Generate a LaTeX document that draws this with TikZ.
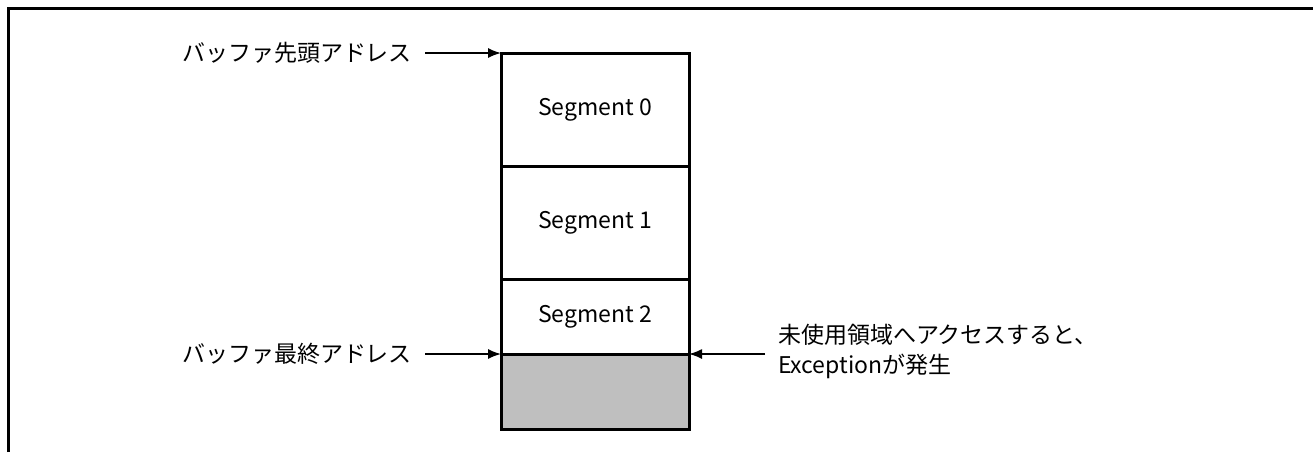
\documentclass[tikz,border=0pt]{standalone}
\usepackage{fontspec}
\setmainfont{Noto Sans CJK JP}
\usepackage{tikz}
\usetikzlibrary{arrows.meta}
\usetikzlibrary{positioning}
\definecolor{unusedgray}{RGB}{191,191,191}
\tikzstyle{base}=[remember picture, inner sep=0pt, outer sep=0pt, font=\fontsize{11.5}{15}\selectfont]
\tikzstyle{seg}=[draw, line width=1.5pt, minimum width=94pt, fill=white]
\tikzstyle{lbl}=[inner xsep=6.5pt, inner ysep=0pt]
\tikzstyle{arw}=[-{Latex[length=6.5pt,width=5pt]}, line width=0.75pt]

\begin{document}
\begin{tikzpicture}[base]
        \useasboundingbox (0,0) rectangle (656.5pt,-226pt);
        \draw[line width=1.5pt] (4pt,-226pt) -- (4pt,-4pt) -- (656.5pt,-4pt);
        \node[seg, minimum height=56.5pt, anchor=north west] (seg0) at (250.5pt,-26.5pt) {Segment 0};
        \node[seg, minimum height=56.5pt, below=0pt of seg0] (seg1) {Segment 1};
        \node[seg, minimum height=37.5pt, below=0pt of seg1] (seg2) {Segment 2};
        \node[seg, minimum height=37.5pt, below=0pt of seg2, fill=unusedgray] (unused) {};
        \node[lbl, left=38pt of seg0.north west] (headaddr) {バッファ先頭アドレス};
        \node[lbl, left=38pt of unused.north west] (tailaddr) {バッファ最終アドレス};
        \node[lbl, right=38pt of unused.north east, anchor=west, yshift=1.5pt, align=left] (note) {未使用領域へアクセスすると、\\Exceptionが発生};
        \draw[arw] (headaddr) -- (seg0.north west);
        \draw[arw] (tailaddr) -- (unused.north west);
        \draw[arw] (note.west |- unused.north east) -- (unused.north east);
    \end{tikzpicture}
\end{document}
